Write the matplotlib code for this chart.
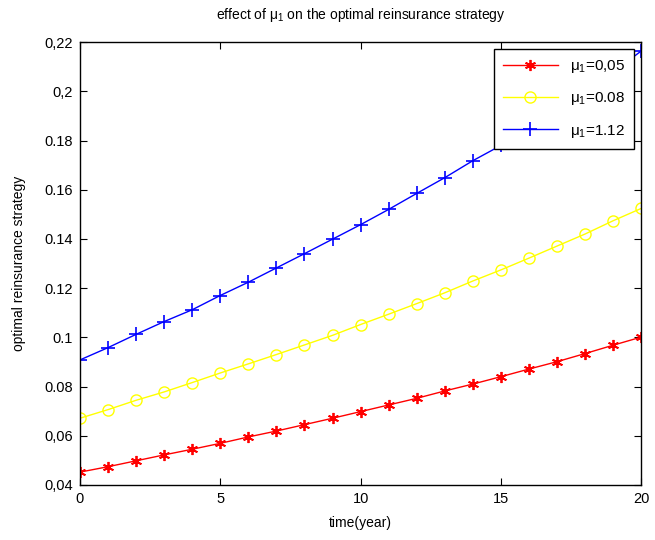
import numpy as np
import matplotlib
matplotlib.use("Agg")
import matplotlib.pyplot as plt

plt.rcParams['font.family'] = ['Liberation Sans', 'DejaVu Sans']
plt.rcParams['mathtext.fontset'] = 'custom'
plt.rcParams['mathtext.rm'] = 'Liberation Sans'
plt.rcParams['mathtext.it'] = 'Liberation Sans'

# time axis (years)
years = list(range(21))

# optimal reinsurance strategy for each mu_1
mu_005 = [0.0452, 0.0474, 0.0498, 0.0522, 0.0545, 0.0569, 0.0595, 0.0619, 0.0645, 0.0671,
          0.0698, 0.0725, 0.0752, 0.0782, 0.0810, 0.0840, 0.0871, 0.0901, 0.0934, 0.0968, 0.1001]
mu_008 = [0.0671, 0.0706, 0.0744, 0.0778, 0.0816, 0.0855, 0.0892, 0.0930, 0.0969, 0.1008,
          0.1052, 0.1094, 0.1137, 0.1181, 0.1229, 0.1274, 0.1322, 0.1371, 0.1420, 0.1474, 0.1524]
mu_112 = [0.0908, 0.0958, 0.1012, 0.1064, 0.1112, 0.1170, 0.1224, 0.1282, 0.1340, 0.1399,
          0.1458, 0.1520, 0.1585, 0.1649, 0.1718, 0.1780, 0.1850, 0.1923, 0.1998, 0.2078, 0.2164]

labels = [r'$\mu_1$=0,05', r'$\mu_1$=0.08', r'$\mu_1$=1.12']

ytick_vals = [0.04, 0.06, 0.08, 0.10, 0.12, 0.14, 0.16, 0.18, 0.20, 0.22]
ytick_text = ['0,04', '0,06', '0.08', '0.1', '0.12', '0.14', '0.16', '0.18', '0,2', '0,22']
xtick_vals = [0, 5, 10, 15, 20]

fig = plt.figure(figsize=(6.55, 5.4), dpi=100)
ax = fig.add_axes([0.122, 0.102, 0.857, 0.82])

# MATLAB style asterisk marker
ax.plot(years, mu_005, color='r', marker=(6, 2, 0), markersize=8, markeredgewidth=1.3,
        linewidth=1, label=labels[0])
ax.plot(years, mu_008, color='yellow', marker='o', markersize=8, markerfacecolor='none',
        linewidth=1, label=labels[1])
ax.plot(years, mu_112, color='b', marker='+', markersize=10, markeredgewidth=1.2,
        linewidth=1, label=labels[2])

ax.set_xlim(0, 20)
ax.set_ylim(0.04, 0.22)
ax.set_xticks(xtick_vals)
ax.set_yticks(ytick_vals)
ax.set_yticklabels(ytick_text)
ax.tick_params(direction='in', top=True, right=True, labelsize=10.5, length=5, pad=5)
for s in ax.spines.values():
    s.set_linewidth(1.0)

ax.set_xlabel('time(year)', fontsize=10, labelpad=7)
ax.set_ylabel('optimal reinsurance strategy', fontsize=10, labelpad=13)
ax.set_title(r'effect of $\mu_1$ on the optimal reinsurance strategy', fontsize=10, pad=17)

leg = ax.legend(loc='upper right', fontsize=11, fancybox=False, framealpha=1,
                edgecolor='black', borderaxespad=0.45, handlelength=3.6,
                labelspacing=1.0, borderpad=0.6)
leg.get_frame().set_linewidth(1.0)

fig.savefig('out.png', dpi=100)
